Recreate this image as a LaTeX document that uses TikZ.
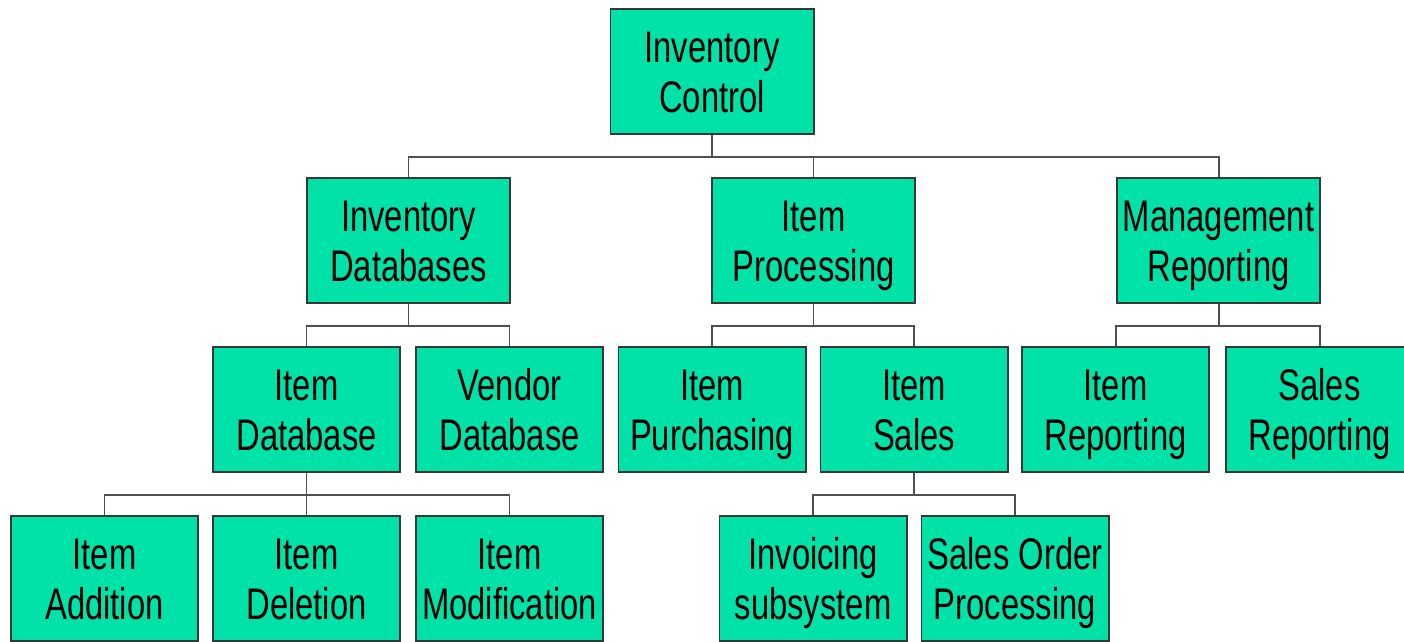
\documentclass[tikz,border=0pt]{standalone}
\usepackage{fontspec}
\setmainfont{Liberation Sans}[FakeStretch=0.74]
\usepackage{tikz}

\definecolor{boxgreen}{RGB}{0,226,168}
\definecolor{boxline}{RGB}{55,55,55}
\definecolor{linkgray}{RGB}{80,80,80}

\tikzset{
	unit/.style={draw=boxline,fill=boxgreen,line width=1.4pt,align=center,
		minimum width=4.675cm,minimum height=3.125cm,inner sep=0pt,
		text height=2.35cm,text depth=0.3cm,
		font=\fontsize{31.5pt}{35.6pt}\selectfont},
	head/.style={unit,minimum width=5.075cm},
	link/.style={draw=linkgray,line width=1.4pt}
}

\begin{document}
\begin{tikzpicture}[x=0.025cm,y=0.025cm]
	\useasboundingbox (0,0) rectangle (1404,641);
	% top of the chart
	\node[head] (ic) at (712,569.5) {Inventory\\Control};
	% second level
	\node[head] (invdb) at (408.5,400.5) {Inventory\\Databases};
	\node[head] (iproc) at (813.5,400.5) {Item\\Processing};
	\node[head] (mrep) at (1218.5,400.5) {Management\\Reporting};
	% third level
	\node[unit] (itemdb) at (306.5,231.5) {Item\\Database};
	\node[unit] (vendb) at (509.5,231.5) {Vendor\\Database};
	\node[unit] (ipur) at (712,231.5) {Item\\Purchasing};
	\node[unit] (isales) at (914,231.5) {Item\\Sales};
	\node[unit] (irep) at (1115.5,231.5) {Item\\Reporting};
	\node[unit] (srep) at (1319.5,231.5) {Sales\\Reporting};
	% bottom level
	\node[unit] (iadd) at (104.5,62.5) {Item\\Addition};
	\node[unit] (idel) at (306.5,62.5) {Item\\Deletion};
	\node[unit] (imod) at (509.5,62.5) {Item\\Modification};
	\node[unit] (inv) at (813,62.5) {Invoicing\\subsystem};
	\node[unit] (sop) at (1015,62.5) {Sales Order\\Processing};

	% connectors
	\foreach \p/\c in {ic/invdb,ic/iproc,ic/mrep,
		invdb/itemdb,invdb/vendb,iproc/ipur,iproc/isales,mrep/irep,mrep/srep,
		itemdb/iadd,itemdb/idel,itemdb/imod,isales/inv,isales/sop}
		\draw[link] (\p.south) -- ++(0,-22) -| (\c.north);
\end{tikzpicture}
\end{document}
